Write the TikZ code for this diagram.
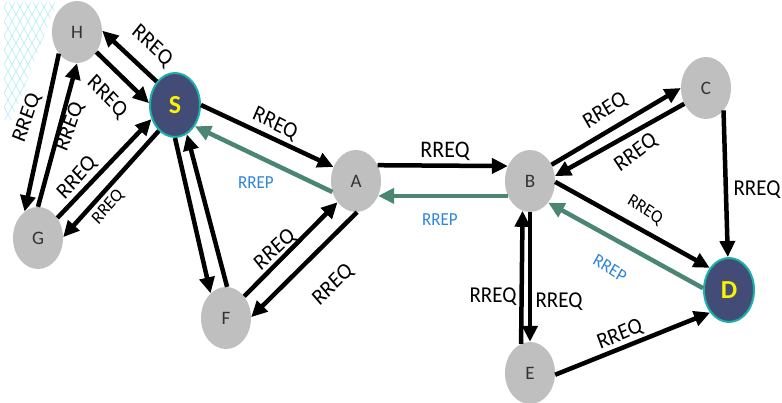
\documentclass[tikz,border=0pt]{standalone}
\usepackage{fontspec}
\setmainfont{Carlito}
\usetikzlibrary{shapes.geometric,arrows.meta}
\definecolor{nodegray}{HTML}{BFBFBF}
\definecolor{navy}{HTML}{434C77}
\definecolor{tealring}{HTML}{1AB2A8}
\definecolor{replygreen}{HTML}{4B8574}
\definecolor{replyblue}{HTML}{2F86D8}
\definecolor{hatch}{HTML}{B4EEF8}
\definecolor{labelyellow}{HTML}{F8F400}
\begin{document}
\begin{tikzpicture}[x=1pt,y=-1pt,
  plain/.style={ellipse, fill=nodegray, minimum width=50pt, minimum height=62pt,
    inner sep=0pt, font=\fontsize{19}{19}\selectfont, text=black!80},
  endpt/.style={ellipse, fill=navy, draw=tealring, line width=2pt,
    minimum width=50pt, minimum height=64pt, inner sep=0pt,
    font=\fontsize{26}{26}\selectfont\bfseries, text=labelyellow},
  req/.style={line width=4.5pt, black, -{Triangle[length=16pt,width=15pt]}},
  rep/.style={line width=4.5pt, replygreen, -{Triangle[length=16pt,width=15pt]}},
  lbl/.style={font=\fontsize{21}{21}\selectfont, text=black, inner sep=0pt, yscale=1.08},
  smalllbl/.style={font=\fontsize{17}{17}\selectfont, text=black, inner sep=0pt, yscale=1.08},
  rlbl/.style={font=\fontsize{17}{17}\selectfont, text=replyblue, inner sep=0pt, yscale=1.08}]
\useasboundingbox (0,0) rectangle (782,403);
\fill[white] (0,0) rectangle (782,403);

% cross-hatched corner texture
\begin{scope}
  \clip (4,2) -- (57,2) -- (12,120) -- (4,120) -- cycle;
  \foreach \i in {-120,-112,...,140} {
    \draw[hatch, line width=0.6pt] (\i,0) -- ++(70,125);
    \draw[hatch, line width=0.6pt] (\i,0) -- ++(-70,125);
  }
\end{scope}

% nodes
\node[plain] (H) at (77,32) {H};
\node[endpt] (S) at (175,105) {S};
\node[plain] (G) at (38,238) {G};
\node[plain] (A) at (356,181) {A};
\node[plain] (F) at (226,318) {F};
\node[plain] (B) at (530,181) {B};
\node[plain] (C) at (706,88) {C};
\node[endpt] (D) at (729,290) {D};
\node[plain] (E) at (530,373) {E};

% route requests and replies
\draw[req] (S.128) -- (H.3);
\draw[req] (H.-46) -- (S.176);
\draw[req] (H.230) -- (G.117);
\draw[req] (G.90) -- (H.-90);
\draw[req] (G.46) -- (S.211);
\draw[req] (S.238) -- (G.2);
\draw[req] (S.0) -- (A.148);
\draw[rep] (A.205) -- (S.-47);
\draw[req] (S.-90) -- (F.122);
\draw[req] (F.88) -- (S.-68);
\draw[req] (F.50) -- (A.229);
\draw[req] (A.-88) -- (F.2);
\draw[req] (A.36) -- (B.146);
\draw[rep] (B.214) -- (A.-34);
\draw[req] (B.37) -- (C.180);
\draw[req] (C.216) -- (B.11);
\draw[req] (B.-2) -- (D.131);
\draw[rep] (D.176) -- (B.-50);
\draw[req] (C.-52) -- (D.92);
\draw[req] (E.107) -- (B.-104);
\draw[req] (B.-90) -- (E.90);
\draw[req] (E.-4) -- (D.230);

% labels
\node[lbl, rotate=-41] (l1) at (152,46) {RREQ};
\node[lbl, rotate=-44] (l2) at (107,97) {RREQ};
\node[lbl, rotate=70] (l3) at (27,118) {RREQ};
\node[lbl, rotate=69] (l4) at (70,127) {RREQ};
\node[lbl, rotate=47] (l5) at (77,178) {RREQ};
\node[smalllbl, rotate=48] (l6) at (108,207) {RREQ};
\node[lbl, rotate=-25] (l7) at (275,124) {RREQ};
\node[rlbl] (l8) at (256,183) {RREP};
\node[lbl, rotate=41] (l9) at (275,250) {RREQ};
\node[lbl, rotate=43] (l10) at (333,285) {RREQ};
\node[lbl, font=\fontsize{22}{22}\selectfont] (l11) at (445,151) {RREQ};
\node[rlbl] (l12) at (440,220) {RREP};
\node[lbl, rotate=32] (l13) at (605,111) {RREQ};
\node[lbl, rotate=36] (l14) at (636,153) {RREQ};
\node[smalllbl, rotate=-32] (l15) at (645,210) {RREQ};
\node[rlbl, rotate=-31] (l16) at (610,268) {RREP};
\node[lbl] (l17) at (757,190) {RREQ};
\node[lbl] (l18) at (493,297) {RREQ};
\node[lbl] (l19) at (559,302) {RREQ};
\node[lbl, rotate=22] (l20) at (620,335) {RREQ};
\end{tikzpicture}
\end{document}
